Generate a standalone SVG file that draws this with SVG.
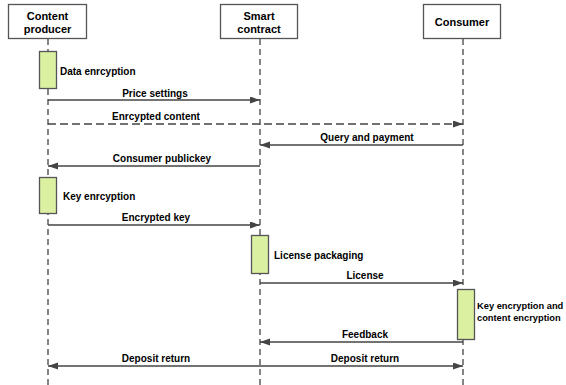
<svg xmlns="http://www.w3.org/2000/svg" width="566" height="385" viewBox="0 0 566 385">
<style>
.box{fill:#fff;stroke:#555;stroke-width:1.3}
.hd{font-family:"Liberation Sans",Arial,sans-serif;font-weight:bold;font-size:11px;fill:#000;text-anchor:middle}
.lab{font-family:"Liberation Sans",Arial,sans-serif;font-weight:bold;font-size:10px;fill:#000}
.sm{font-size:9.3px}
.mid{text-anchor:middle}
.life{stroke:#444;stroke-width:1.3;stroke-dasharray:6 4;fill:none}
.msg{stroke:#444;stroke-width:1.3;fill:none}
.dash{stroke-dasharray:8 4}
.act{fill:#dcf0a2;stroke:#555;stroke-width:1.3}
</style>
<defs>
<marker id="ah" markerUnits="userSpaceOnUse" markerWidth="11" markerHeight="8" refX="10" refY="3.5" orient="auto-start-reverse">
<path d="M0,0 L10,3.5 L0,7 z" fill="#444"/>
</marker>
</defs>
<g id="lifelines">
<line class="life" x1="48" y1="39" x2="48" y2="385"/>
<line class="life" x1="260" y1="39" x2="260" y2="385"/>
<line class="life" x1="463" y1="39" x2="463" y2="385"/>
</g>
<g id="producer">
<rect class="box" x="8.5" y="4.5" width="78" height="34"/>
<text class="hd" x="47.5" y="20">Content</text>
<text class="hd" x="47.5" y="33">producer</text>
</g>
<g id="contract">
<rect class="box" x="220.5" y="4.5" width="77" height="34"/>
<text class="hd" x="259" y="20">Smart</text>
<text class="hd" x="259" y="33">contract</text>
</g>
<g id="consumer">
<rect class="box" x="423.5" y="4.5" width="77" height="34"/>
<text class="hd" x="462" y="26">Consumer</text>
</g>
<g id="act-data">
<rect class="act" x="39.5" y="51.5" width="17" height="37"/>
<text class="lab" x="60" y="75">Data enrcyption</text>
</g>
<g id="act-key">
<rect class="act" x="39.5" y="177.5" width="17" height="36"/>
<text class="lab" x="63" y="200">Key enrcyption</text>
</g>
<g id="act-license">
<rect class="act" x="251.5" y="235.5" width="17" height="38"/>
<text class="lab" x="274" y="259">License packaging</text>
</g>
<g id="act-consumer">
<rect class="act" x="457.5" y="289.5" width="17" height="50"/>
<text class="lab sm" x="477" y="309">Key encryption and</text>
<text class="lab sm" x="477" y="321">content encryption</text>
</g>
<g id="connectors">
<line class="msg" x1="48" y1="100" x2="260" y2="100" marker-end="url(#ah)"/>
<line class="msg dash" x1="48" y1="124" x2="463" y2="124" marker-end="url(#ah)"/>
<line class="msg" x1="463" y1="145" x2="260" y2="145" marker-end="url(#ah)"/>
<line class="msg" x1="260" y1="166" x2="48" y2="166" marker-end="url(#ah)"/>
<line class="msg" x1="48" y1="225" x2="260" y2="225" marker-end="url(#ah)"/>
<line class="msg" x1="260" y1="283" x2="463" y2="283" marker-end="url(#ah)"/>
<line class="msg" x1="463" y1="342" x2="260" y2="342" marker-end="url(#ah)"/>
<line class="msg" x1="48" y1="366" x2="463" y2="366" marker-start="url(#ah)" marker-end="url(#ah)"/>
</g>
<g id="labels">
<text class="lab mid" x="155" y="97">Price settings</text>
<text class="lab mid" x="156" y="120">Enrcypted content</text>
<text class="lab mid" x="367" y="141">Query and payment</text>
<text class="lab mid" x="162" y="162">Consumer publickey</text>
<text class="lab mid" x="156" y="221">Encrypted key</text>
<text class="lab mid" x="365" y="279">License</text>
<text class="lab mid" x="365" y="338">Feedback</text>
<text class="lab mid" x="156" y="362">Deposit return</text>
<text class="lab mid" x="365" y="362">Deposit return</text>
</g>
</svg>
